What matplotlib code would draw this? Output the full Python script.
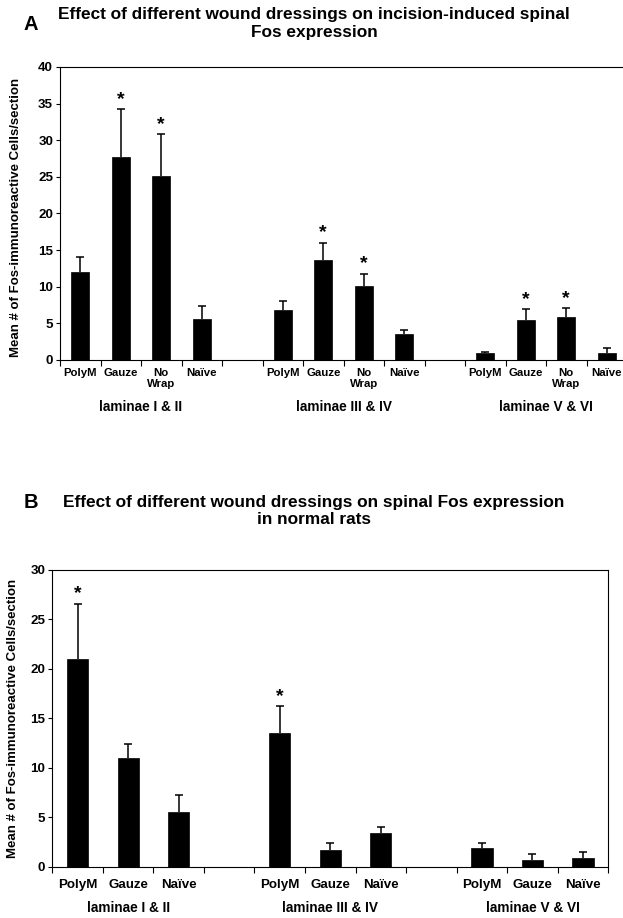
import matplotlib
matplotlib.use("Agg")
import matplotlib.pyplot as plt
import matplotlib.transforms as mtransforms
import numpy as np

plt.rcParams['font.family'] = ['Liberation Sans', 'DejaVu Sans']
plt.rcParams['font.weight'] = 'bold'

# ---------------- Data ----------------
groups = ["laminae I & II", "laminae III & IV", "laminae V & VI"]

a_labels = ["PolyM", "Gauze", "No\nWrap", "Naïve"]
a_means_g1 = [12.0, 27.7, 25.1, 5.6]
a_err_g1 = [2.1, 6.5, 5.7, 1.8]
a_means_g2 = [6.8, 13.6, 10.1, 3.5]
a_err_g2 = [1.3, 2.4, 1.7, 0.6]
a_means_g3 = [0.9, 5.5, 5.9, 0.9]
a_err_g3 = [0.2, 1.4, 1.2, 0.7]
a_sig = [False, True, True, False]

b_labels = ["PolyM", "Gauze", "Naïve"]
b_means_g1 = [21.0, 11.0, 5.5]
b_err_g1 = [5.6, 1.4, 1.8]
b_means_g2 = [13.5, 1.7, 3.4]
b_err_g2 = [2.75, 0.7, 0.65]
b_means_g3 = [1.85, 0.7, 0.85]
b_err_g3 = [0.5, 0.6, 0.65]
b_sig_g1 = [True, False, False]
b_sig_g2 = [True, False, False]
b_sig_g3 = [False, False, False]

title_a = "Effect of different wound dressings on incision-induced spinal\nFos expression"
title_b = "Effect of different wound dressings on spinal Fos expression\nin normal rats"
ylabel = "Mean # of Fos-immunoreactive Cells/section"

W, H = 623, 918
fig = plt.figure(figsize=(W / 100, H / 100), dpi=100)
PT = 72.0 / 100.0  # points per pixel


def px_axes(left, right, top, bottom):
    return fig.add_axes([left / W, 1 - bottom / H, (right - left) / W, (bottom - top) / H])


def draw_panel(ax, means, errs, sigs, labels, ymax, tick_fs, lab_pad_px, group_y_px,
               group_fs, bar_w, ax_h_px):
    n_per = len(labels)
    slot = n_per + 1
    xs_all, labs_all = [], []
    trans = mtransforms.blended_transform_factory(ax.transData, ax.transAxes)
    for gi, (m, e, s) in enumerate(zip(means, errs, sigs)):
        xs = np.arange(n_per) + gi * slot
        ax.bar(xs, m, width=bar_w, color='black', edgecolor='black', linewidth=0.5, zorder=3)
        eb = ax.errorbar(xs, m, yerr=[np.zeros(len(e)), e], fmt='none', ecolor='black',
                         elinewidth=1.1, capsize=3, capthick=1.1, zorder=2)
        # hide the lower caps (they sit on the bar tops)
        for cap in eb[1]:
            if np.allclose(np.asarray(cap.get_ydata(), dtype=float), np.asarray(m, dtype=float)):
                cap.set_visible(False)
        for x, mm, ee, ss in zip(xs, m, e, s):
            if ss:
                ax.annotate("*", (x, mm + ee), xytext=(0, 1), textcoords='offset points',
                            ha='center', va='bottom', fontsize=14, fontweight='bold')
        xs_all.extend(xs)
        labs_all.extend(labels)
        ax.text(xs.mean(), -group_y_px / ax_h_px, groups[gi], transform=trans,
                ha='center', va='center', fontsize=group_fs, fontweight='bold')
    total = len(means) * slot - 1
    ax.set_ylim(0, ymax)
    ax.set_yticks(np.arange(0, ymax + 1, 5))
    ax.set_xticks(np.arange(-0.5, total + 1, 1.0))
    ax.set_xticklabels([])
    ax.set_xticks(xs_all, minor=True)
    ax.set_xticklabels(labs_all, minor=True, fontsize=tick_fs, fontweight='bold')
    ax.tick_params(axis='x', which='major', direction='out', length=4, width=0.8)
    ax.tick_params(axis='x', which='minor', length=0, pad=lab_pad_px * PT)
    ax.tick_params(axis='y', direction='out', length=3, width=0.8, pad=2)
    for t in ax.get_yticklabels():
        t.set_fontweight('bold')
        t.set_fontsize(9.6)
    for sp in ax.spines.values():
        sp.set_linewidth(0.8)
    ax.set_ylabel(ylabel, fontsize=9.5, fontweight='bold')


# ---------------- Panel A ----------------
axA = px_axes(60, 627, 67, 360)
draw_panel(axA, [a_means_g1, a_means_g2, a_means_g3], [a_err_g1, a_err_g2, a_err_g3],
           [a_sig, a_sig, a_sig], a_labels, 40, 8.2, 7.5, 47, 9.8, 0.45, 293)
axA.set_xlim(-0.5, 13.5)
axA.spines['right'].set_visible(False)
axA.yaxis.set_label_coords(-38 / 567, 0.485)

fig.text(31 / W, 1 - 25 / H, "A", fontsize=14.5, fontweight='bold', ha='center', va='center')
fig.text(314 / W, 1 - 24 / H, title_a, fontsize=12.4, fontweight='bold', ha='center',
         va='center', linespacing=1.25)

# ---------------- Panel B ----------------
axB = px_axes(52.3, 608.3, 570, 866.7)
draw_panel(axB, [b_means_g1, b_means_g2, b_means_g3], [b_err_g1, b_err_g2, b_err_g3],
           [b_sig_g1, b_sig_g2, b_sig_g3], b_labels, 30, 9.6, 12, 41, 9.8, 0.42, 296.7)
axB.set_xlim(-0.5, 10.5)
axB.yaxis.set_label_coords(-33 / 556, 0.5)

fig.text(31 / W, 1 - 503 / H, "B", fontsize=14.5, fontweight='bold', ha='center', va='center')
fig.text(314 / W, 1 - 511 / H, title_b, fontsize=12.4, fontweight='bold', ha='center',
         va='center', linespacing=1.25)

fig.savefig("out.png", dpi=100)
